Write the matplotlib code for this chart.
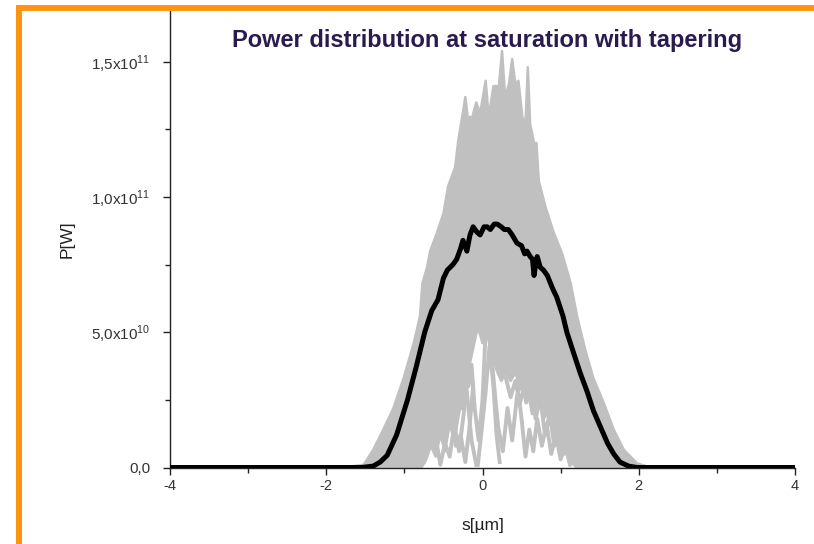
import numpy as np
import matplotlib
matplotlib.use("Agg")
import matplotlib.pyplot as plt
from matplotlib.patches import Rectangle
from matplotlib.ticker import FixedLocator, MultipleLocator

plt.rcParams["font.family"] = ["Liberation Sans", "DejaVu Sans"]
plt.rcParams["mathtext.fontset"] = "custom"
plt.rcParams["mathtext.rm"] = "Liberation Sans"

# upper edge of the grey bundle of single shots (s in um, P in 1e10 W)
up_s = [-1.80, -1.65, -1.52, -1.40, -1.27, -1.14, -1.01, -0.88, -0.80, -0.77,
        -0.71, -0.67, -0.58, -0.50, -0.44, -0.35, -0.31, -0.26, -0.22, -0.19,
        -0.13, -0.08, -0.03, 0.04, 0.08, 0.14, 0.21, 0.25, 0.29, 0.34, 0.38,
        0.42, 0.46, 0.51, 0.55, 0.58, 0.61, 0.66, 0.69, 0.72, 0.81, 0.91,
        1.02, 1.13, 1.21, 1.32, 1.42, 1.55, 1.68, 1.81, 1.98, 2.15]
up_P = [0.0, 0.05, 0.1, 0.65, 1.4, 2.2, 3.3, 4.6, 5.6, 6.8,
        7.4, 8.0, 8.7, 9.4, 10.4, 11.1, 12.1, 12.96, 13.7, 12.96,
        12.96, 13.5, 13.1, 14.3, 12.96, 14.1, 14.1, 15.4, 13.7, 14.2, 15.1,
        14.2, 14.3, 12.96, 12.7, 14.8, 12.7, 12.0, 12.0, 10.6, 9.6, 8.7,
        7.9, 6.8, 5.6, 4.3, 3.3, 2.4, 1.4, 0.65, 0.15, 0.0]

# lower edge of the solid grey part (white holes below it)
lo_s = [-1.80, -0.78, -0.72, -0.66, -0.60, -0.54, -0.48, -0.42, -0.36, -0.30,
        -0.24, -0.18, -0.12, -0.06, 0.00, 0.06, 0.12, 0.18, 0.24, 0.30, 0.36,
        0.42, 0.48, 0.54, 0.60, 0.66, 0.72, 0.78, 0.84, 0.90, 0.96, 1.02,
        1.08, 1.14, 1.20, 2.15]
lo_P = [0.0, 0.0, 0.3, 0.8, 0.4, 1.2, 0.6, 1.6, 1.0, 2.0,
        2.6, 3.6, 4.4, 5.2, 4.6, 4.9, 4.2, 3.6, 3.2, 3.5, 3.2,
        3.5, 3.0, 2.6, 2.9, 2.2, 2.6, 1.8, 2.0, 1.2, 1.0, 0.5,
        0.6, 0.2, 0.0, 0.0]

# single low-power shots crossing the holes
shots = [
    ([-0.75, -0.68, -0.62, -0.56, -0.50, -0.44, -0.38, -0.32, -0.26, -0.20],
     [0.2, 1.5, 1.0, 2.4, 1.6, 2.8, 1.8, 3.0, 2.2, 4.0]),
    ([-0.70, -0.64, -0.58, -0.54, -0.48, -0.42, -0.36, -0.30, -0.24, -0.18],
     [2.6, 1.4, 0.8, 0.1, 0.9, 0.4, 1.6, 0.6, 2.0, 3.5]),
    ([-0.65, -0.58, -0.52, -0.46, -0.40, -0.34, -0.28, -0.22, -0.17, -0.12],
     [3.0, 2.0, 2.6, 1.2, 2.0, 0.8, 1.2, 0.2, 1.4, 3.0]),
    ([-0.55, -0.48, -0.42, -0.36, -0.30, -0.25, -0.20, -0.14, -0.08],
     [3.2, 2.4, 3.2, 2.6, 3.4, 2.2, 2.8, 1.0, 0.1]),
    ([-0.22, -0.18, -0.14, -0.10, -0.05, 0.00, 0.04],
     [4.5, 3.0, 3.8, 2.2, 1.0, 2.5, 5.0]),
    ([-0.06, -0.01, 0.04, 0.09, 0.14, 0.18, 0.22],
     [0.1, 1.4, 2.8, 4.5, 3.0, 1.2, 0.2]),
    ([0.10, 0.15, 0.20, 0.26, 0.32, 0.38, 0.44, 0.50],
     [4.6, 3.0, 1.5, 0.6, 2.2, 1.0, 2.6, 3.5]),
    ([0.45, 0.50, 0.55, 0.60, 0.65, 0.70, 0.76, 0.82, 0.88, 0.94, 1.00, 1.06, 1.12],
     [3.0, 1.8, 0.4, 1.4, 0.6, 1.8, 0.8, 1.6, 0.5, 1.2, 0.3, 0.8, 0.1]),
    ([0.50, 0.56, 0.62, 0.68, 0.74, 0.80, 0.86, 0.92, 0.98, 1.04, 1.10],
     [3.4, 2.4, 3.0, 1.8, 2.6, 1.2, 2.0, 0.8, 1.4, 0.5, 0.6]),
    ([0.58, 0.64, 0.70, 0.76, 0.82, 0.88, 0.94, 1.00],
     [3.0, 2.0, 2.6, 2.2, 2.6, 1.6, 2.0, 1.0]),
    ([0.30, 0.36, 0.42, 0.48, 0.54, 0.60],
     [3.3, 2.6, 3.2, 2.4, 3.0, 2.8]),
]

# average power (black)
mean_s = [-4.0, -1.55, -1.40, -1.31, -1.22, -1.10, -0.96, -0.85, -0.74, -0.65,
          -0.57, -0.50, -0.45, -0.38, -0.33, -0.28, -0.25, -0.20, -0.16, -0.12,
          -0.07, -0.03, 0.02, 0.06, 0.10, 0.15, 0.19, 0.24, 0.28, 0.33, 0.38,
          0.44, 0.50, 0.54, 0.57, 0.61, 0.64, 0.66, 0.68, 0.70, 0.74, 0.78,
          0.83, 0.90, 0.95, 1.03, 1.08, 1.17, 1.25, 1.34, 1.42, 1.51, 1.60,
          1.68, 1.76, 1.87, 1.98, 4.0]
mean_P = [0.0, 0.0, 0.05, 0.2, 0.45, 1.2, 2.5, 3.7, 5.0, 5.8,
          6.2, 7.0, 7.3, 7.5, 7.7, 8.1, 8.4, 8.0, 8.6, 8.9,
          8.7, 8.6, 8.9, 8.9, 8.8, 9.0, 9.0, 8.9, 8.8, 8.8, 8.6,
          8.3, 8.2, 7.9, 8.0, 7.8, 7.7, 7.1, 7.5, 7.8, 7.4, 7.3,
          7.1, 6.6, 6.3, 5.6, 5.0, 4.2, 3.5, 2.8, 2.1, 1.5, 0.9,
          0.5, 0.2, 0.05, 0.0, 0.0]

fig = plt.figure(figsize=(8.14, 5.44), dpi=100)
ax = fig.add_axes([170 / 814, 76.5 / 544, 625 / 814, 456.5 / 544])

grey = "#c0c0c0"
ax.fill(np.r_[up_s, lo_s[::-1]], np.r_[up_P, lo_P[::-1]] * 1e10,
        facecolor=grey, edgecolor=grey, lw=1.8, joinstyle="round", zorder=1)
for xs, ps in shots:
    ax.plot(xs, np.array(ps) * 1e10, color=grey, lw=2.8, zorder=1,
            solid_joinstyle="round")
ax.plot(mean_s, np.array(mean_P) * 1e10, color="black", lw=3.6,
        solid_joinstyle="round", zorder=3)

ax.set_xlim(-4, 4)
ax.set_ylim(0, 1.688e11)
for side in ("top", "right"):
    ax.spines[side].set_visible(False)
for side in ("left", "bottom"):
    ax.spines[side].set_color("#222222")
    ax.spines[side].set_linewidth(1.0)

ax.xaxis.set_major_locator(FixedLocator([-4, -2, 0, 2, 4]))
ax.xaxis.set_minor_locator(MultipleLocator(1))
ax.yaxis.set_major_locator(FixedLocator([0, 5e10, 1e11, 1.5e11]))
ax.yaxis.set_minor_locator(MultipleLocator(2.5e10))
ax.set_xticklabels(["-4", "-2", "0", "2", "4"])
ax.set_yticklabels(["0,0", r"5,0x10$^{10}$", r"1,0x10$^{11}$", r"1,5x10$^{11}$"])
ax.tick_params(axis="x", which="major", direction="out", length=5, width=1,
               color="#222222", labelsize=10.5, labelcolor="#333333", pad=3)
ax.tick_params(axis="y", which="major", direction="out", length=5, width=1,
               color="#222222", labelsize=11, labelcolor="#333333", pad=9)
ax.tick_params(which="minor", direction="out", length=3.5, width=1, color="#222222")

ax.set_xlabel("s[µm]", fontsize=12.5, color="#222222", labelpad=18)
ax.set_ylabel("P[W]", fontsize=12.5, color="#222222", labelpad=12)

fig.text(487 / 814, 1 - 40 / 544, "Power distribution at saturation with tapering",
         ha="center", va="center", fontsize=17, fontweight="bold", color="#2a1b4e")

orange = "#ff9412"
fig.add_artist(Rectangle((16 / 814, 1 - 11 / 544), 1 - 16 / 814, 6 / 544,
                         transform=fig.transFigure, color=orange, lw=0))
fig.add_artist(Rectangle((16 / 814, 0), 5.5 / 814, 1 - 5 / 544,
                         transform=fig.transFigure, color=orange, lw=0))

fig.savefig("out.png", dpi=100)
